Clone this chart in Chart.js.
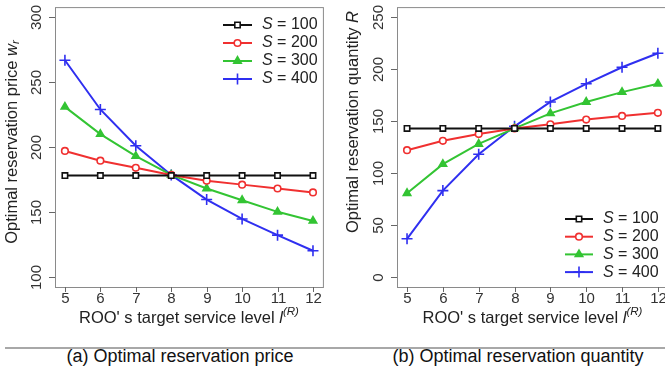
<!DOCTYPE html>
<html>
<head>
<meta charset="utf-8">
<script src="https://cdn.jsdelivr.net/npm/chart.js@4/dist/chart.umd.min.js"></script>
<style>
  body { margin: 0; width: 665px; height: 372px; overflow: hidden; background: #fff; position: relative; font-family: "Liberation Sans", Arial, sans-serif; }
  #leftBox { position: absolute; left: 0; top: 0; width: 330px; height: 340px; }
  #rightBox { position: absolute; left: 330px; top: 0; width: 345px; height: 340px; }
  #divider { position: absolute; left: 5px; right: 0; top: 347px; border-top: 2px solid #a8a8a8; }
  .caption { position: absolute; top: 346px; font-size: 18px; color: #111; white-space: nowrap; transform: translateX(-50%); }
</style>
</head>
<body>
<div id="leftBox"><canvas id="priceChart" width="330" height="340"></canvas></div>
<div id="rightBox"><canvas id="quantityChart" width="345" height="340"></canvas></div>
<div id="divider"></div>
<div class="caption" style="left:180px">(a) Optimal reservation price</div>
<div class="caption" style="left:518px">(b) Optimal reservation quantity</div>
<script>
/*jshint esversion: 6 */

// service levels on the x axis
var levels = [5, 6, 7, 8, 9, 10, 11, 12];
var sValues = [100, 200, 300, 400];

// optimal reservation price w_r, one list per S
var priceS100 = [178, 178, 178, 178, 178, 178, 178, 178];
var priceS200 = [197, 189.5, 184, 178.5, 174, 171, 168, 165];
var priceS300 = [231, 210, 193, 178.5, 168, 159, 150, 143];
var priceS400 = [267, 229, 201, 178.5, 159.5, 144.5, 132, 120];

// optimal reservation quantity R, one list per S
var qtyS100 = [143, 143, 143, 143, 143, 143, 143, 143];
var qtyS200 = [122, 131, 137.5, 143, 147, 151.5, 155, 158];
var qtyS300 = [80.5, 108.5, 128, 143, 157.5, 168.5, 178, 186];
var qtyS400 = [36.5, 83, 118, 145, 168.5, 186, 202, 215.5];

var priceTicks = [100, 150, 200, 250, 300];
var qtyTicks = [0, 50, 100, 150, 200, 250];

var colors = ['#111111', '#f03030', '#33c433', '#2f2ff0'];
var markers = [
  { pointStyle: 'rect', radius: 3.8, fill: '#ffffff' },
  { pointStyle: 'circle', radius: 3.3, fill: '#ffffff' },
  { pointStyle: 'triangle', radius: 4.3, fill: null },
  { pointStyle: 'cross', radius: 5.5, fill: null }
];

var FONT = '"Liberation Sans", Arial, sans-serif';

function toPoints(values) {
  return values.map(function(v, i) {
    return { x: levels[i], y: v };
  });
}

function makeDatasets(lists) {
  return lists.map(function(values, i) {
    var m = markers[i];
    return {
      label: 'S = ' + sValues[i],
      data: toPoints(values),
      borderColor: colors[i],
      borderWidth: 2,
      pointStyle: m.pointStyle,
      pointRadius: m.radius,
      pointBorderWidth: 1.6,
      pointBorderColor: colors[i],
      pointBackgroundColor: m.fill || colors[i],
      tension: 0
    };
  });
}

// draw text made of runs with different fonts / offsets, centred at (x, y)
function drawRuns(ctx, runs, x, y) {
  var total = 0;
  runs.forEach(function(r) {
    ctx.font = r.font;
    total += ctx.measureText(r.t).width;
  });
  var cx = x - total / 2;
  ctx.textAlign = 'left';
  ctx.textBaseline = 'middle';
  runs.forEach(function(r) {
    ctx.font = r.font;
    ctx.fillText(r.t, cx, y + (r.dy || 0));
    cx += ctx.measureText(r.t).width;
  });
}

function drawMarker(ctx, i, x, y) {
  var m = markers[i];
  ctx.strokeStyle = colors[i];
  ctx.fillStyle = m.fill || colors[i];
  ctx.lineWidth = 1.6;
  Chart.helpers.drawPoint(ctx, { pointStyle: m.pointStyle, radius: m.radius, rotation: 0, borderWidth: 1.6 }, x, y);
}

var rAxes = {
  id: 'rAxes',
  afterDraw: function(chart, args, o) {
    var ctx = chart.ctx;
    var a = chart.chartArea;
    var xs = chart.scales.x;
    var ys = chart.scales.y;
    ctx.save();

    // box round the plot
    ctx.strokeStyle = '#8a8a8a';
    ctx.lineWidth = 1;
    ctx.strokeRect(a.left + 0.5, a.top + 0.5, a.right - a.left, a.bottom - a.top);

    ctx.fillStyle = '#333';
    ctx.strokeStyle = '#666';
    ctx.font = '15px ' + FONT;
    ctx.textAlign = 'center';
    ctx.textBaseline = 'middle';

    levels.forEach(function(v) {
      var px = Math.round(xs.getPixelForValue(v)) + 0.5;
      ctx.beginPath();
      ctx.moveTo(px, a.bottom);
      ctx.lineTo(px, a.bottom + 5);
      ctx.stroke();
      ctx.fillText(String(v), px, a.bottom + 12);
    });

    o.yTicks.forEach(function(v) {
      var py = Math.round(ys.getPixelForValue(v)) + 0.5;
      ctx.beginPath();
      ctx.moveTo(a.left - 6, py);
      ctx.lineTo(a.left, py);
      ctx.stroke();
      ctx.save();
      ctx.translate(a.left - 18, py);
      ctx.rotate(-Math.PI / 2);
      ctx.fillText(String(v), 0, 0);
      ctx.restore();
    });

    // axis titles
    ctx.fillStyle = '#222';
    drawRuns(ctx, [
      { t: "ROO' s target service level ", font: '16.5px ' + FONT },
      { t: 'l', font: 'italic 16.5px ' + FONT },
      { t: '(R)', font: 'italic 11.5px ' + FONT, dy: -6 }
    ], (a.left + a.right) / 2, a.bottom + 31);

    ctx.save();
    ctx.translate(o.yTitleX, o.yTitleY);
    ctx.rotate(-Math.PI / 2);
    drawRuns(ctx, o.yTitle, 0, 0);
    ctx.restore();

    // legend
    var lg = o.legend;
    sValues.forEach(function(s, i) {
      var y = lg.y + i * lg.gap;
      ctx.strokeStyle = colors[i];
      ctx.lineWidth = 2;
      ctx.beginPath();
      ctx.moveTo(lg.x, y);
      ctx.lineTo(lg.x + lg.len, y);
      ctx.stroke();
      drawMarker(ctx, i, lg.x + lg.len / 2, y);
      ctx.fillStyle = '#222';
      ctx.textAlign = 'left';
      ctx.textBaseline = 'middle';
      ctx.font = 'italic 16px ' + FONT;
      ctx.fillText('S', lg.x + lg.len + 10, y);
      var w = ctx.measureText('S').width;
      ctx.font = '16px ' + FONT;
      ctx.fillText(' = ' + s, lg.x + lg.len + 10 + w, y);
    });

    ctx.restore();
  }
};

function createChart(id, lists, yMin, yMax, pad, opts) {
  var container = document.getElementById(id).getContext('2d');
  return new Chart(container, {
    type: 'line',
    data: { datasets: makeDatasets(lists) },
    options: {
      responsive: false,
      animation: false,
      devicePixelRatio: 1,
      layout: { padding: pad },
      clip: false,
      scales: {
        x: { type: 'linear', min: 4.72, max: 12.28, display: false },
        y: { type: 'linear', min: yMin, max: yMax, display: false }
      },
      plugins: {
        legend: { display: false },
        tooltip: { enabled: false },
        rAxes: opts
      }
    },
    plugins: [rAxes]
  });
}

createChart('priceChart', [priceS100, priceS200, priceS300, priceS400], 92, 308,
  { left: 55, top: 7, right: 7, bottom: 53 },
  {
    yTicks: priceTicks,
    yTitleX: 12,
    yTitleY: 142,
    yTitle: [
      { t: 'Optimal reservation price ', font: '16.5px ' + FONT },
      { t: 'w', font: 'italic 16.5px ' + FONT },
      { t: 'r', font: 'italic 11.5px ' + FONT, dy: 4 }
    ],
    legend: { x: 223, y: 25, gap: 18, len: 29 }
  });

createChart('quantityChart', [qtyS100, qtyS200, qtyS300, qtyS400], -10, 260,
  { left: 67, top: 7, right: 7, bottom: 53 },
  {
    yTicks: qtyTicks,
    yTitleX: 23,
    yTitleY: 122,
    yTitle: [
      { t: 'Optimal reservation quantity ', font: '16.5px ' + FONT },
      { t: 'R', font: 'italic 16.5px ' + FONT }
    ],
    legend: { x: 235, y: 219, gap: 17.7, len: 28 }
  });
</script>
</body>
</html>
